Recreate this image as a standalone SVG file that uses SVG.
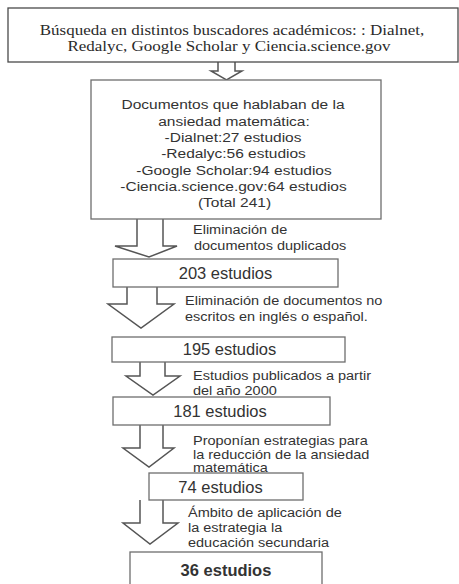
<svg xmlns="http://www.w3.org/2000/svg" width="459" height="584" viewBox="0 0 459 584">
<style>
.box{fill:#fff;stroke:#6e6e6e;stroke-width:1.3}
.tbox{fill:#fff;stroke:#4a4a4a;stroke-width:1.3}
.arr{fill:#fff;stroke:#555;stroke-width:1.5;stroke-linejoin:miter}
.serif{font-family:"Liberation Serif","Times New Roman",serif;font-size:17px;fill:#2a2a2a;text-anchor:middle}
.sans{font-family:"Liberation Sans",Arial,sans-serif;fill:#333}
.c{text-anchor:middle}
.b2{font-size:15.5px}
.cnt{font-size:16.5px}
.lbl{font-size:14.5px}
</style>
<rect width="459" height="584" fill="#fff"/>
<g id="connectors">
<path class="arr" d="M218,62 L218,71 L211,71 L226.5,80 L242,71 L235,71 L235,62"/>
<path class="arr" d="M137,219 L137,246 L115,246 L149,257 L177,246 L163,246 L163,219"/>
<path class="arr" d="M127,287 L127,304 L108,304 L141,328 L174,304 L157,304 L157,287"/>
<path class="arr" d="M140,362 L140,376 L126,376 L153,395 L180,376 L165,376 L165,362"/>
<path class="arr" d="M140,425 L140,448 L123,448 L149,467 L174,448 L163,448 L163,425"/>
<path class="arr" d="M140,500 L140,523 L123,523 L150,544 L178,523 L163,523 L163,500"/>
</g>
<g id="n1">
<rect class="tbox" x="8" y="8" width="450" height="54"/>
<text class="serif" transform="translate(232,35) scale(1,0.85)">Búsqueda en distintos buscadores académicos: : Dialnet,</text>
<text class="serif" transform="translate(229,51) scale(1,0.85)">Redalyc, Google Scholar y Ciencia.science.gov</text>
</g>
<g id="n2">
<rect class="box" x="91" y="80" width="290" height="139"/>
<text class="sans c b2" transform="translate(233,109) scale(1,0.87)">Documentos que hablaban de la</text>
<text class="sans c b2" transform="translate(234,125.5) scale(1,0.87)">ansiedad matemática:</text>
<text class="sans c b2" transform="translate(233,141.5) scale(1,0.87)">-Dialnet:27 estudios</text>
<text class="sans c b2" transform="translate(233.5,158) scale(1,0.87)">-Redalyc:56 estudios</text>
<text class="sans c b2" transform="translate(234,174.5) scale(1,0.87)">-Google Scholar:94 estudios</text>
<text class="sans c b2" transform="translate(233.5,191) scale(1,0.87)">-Ciencia.science.gov:64 estudios</text>
<text class="sans c b2" transform="translate(234.5,207) scale(1,0.87)">(Total 241)</text>
</g>
<g id="l1">
<text class="sans lbl" transform="translate(193,234) scale(1,0.9)">Eliminación de</text>
<text class="sans lbl" transform="translate(194,250) scale(1,0.9)">documentos duplicados</text>
</g>
<g id="n3">
<rect class="box" x="113" y="259" width="225" height="28"/>
<text class="sans c cnt" x="225.5" y="279">203 estudios</text>
</g>
<g id="l2">
<text class="sans lbl" transform="translate(185,305) scale(1,0.9)">Eliminación de documentos no</text>
<text class="sans lbl" transform="translate(185,321) scale(1,0.9)">escritos en inglés o español.</text>
</g>
<g id="n4">
<rect class="box" x="112" y="337" width="233" height="25"/>
<text class="sans c cnt" x="229.5" y="355">195 estudios</text>
</g>
<g id="l3">
<text class="sans lbl" transform="translate(193,380) scale(1,0.9)">Estudios publicados a partir</text>
<text class="sans lbl" transform="translate(193,395) scale(1,0.9)">del año 2000</text>
</g>
<g id="n5">
<rect class="box" x="113" y="397" width="217" height="28"/>
<text class="sans c cnt" x="220" y="417">181 estudios</text>
</g>
<g id="l4">
<text class="sans lbl" transform="translate(193,444.5) scale(1,0.84)">Proponían estrategias para</text>
<text class="sans lbl" transform="translate(193,458.5) scale(1,0.84)">la reducción de la ansiedad</text>
<text class="sans lbl" transform="translate(193,471.5) scale(1,0.84)">matemática</text>
</g>
<g id="n6">
<rect class="box" x="149" y="473" width="154" height="27"/>
<text class="sans c cnt" x="220.5" y="493">74 estudios</text>
</g>
<g id="l5">
<text class="sans lbl" transform="translate(188,517) scale(1,0.9)">Ámbito de aplicación de</text>
<text class="sans lbl" transform="translate(188,532) scale(1,0.9)">la estrategia la</text>
<text class="sans lbl" transform="translate(188,547) scale(1,0.9)">educación secundaria</text>
</g>
<g id="n7">
<rect class="box" x="130" y="552" width="192" height="50"/>
<text class="sans c cnt" x="226" y="576" font-weight="bold">36 estudios</text>
</g>
</svg>
